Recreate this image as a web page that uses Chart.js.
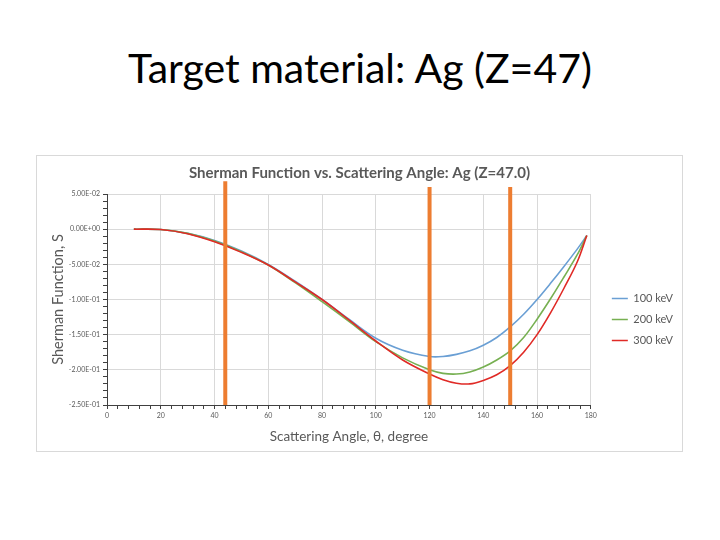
<!DOCTYPE html>
<html>
<head>
<meta charset="utf-8">
<script src="https://cdn.jsdelivr.net/npm/chart.js@4.4.1/dist/chart.umd.min.js"></script>
<style>
  body { margin: 0; width: 720px; height: 540px; background: #fff; position: relative; font-family: Lato, sans-serif; overflow: hidden; }
  #title { position: absolute; left: 0; top: 43px; width: 720px; text-align: center; font-size: 41px; color: #000; }
  #frame { position: absolute; left: 36px; top: 155px; width: 645px; height: 295px; border: 1px solid #d9d9d9; }
</style>
</head>
<body>
<div id="title">Target material: Ag (Z=47)</div>
<div id="frame"><canvas id="line-chart" width="645" height="295"></canvas></div>
<script>
// scattering angles (degree)
var angles = [10, 20, 30, 40, 50, 60, 70, 80, 90, 100, 110, 120, 125, 130, 135, 140, 145, 150, 155, 160, 165, 170, 175, 178.5];
// Sherman function S for each beam energy
var s100 = [0, -0.0005, -0.006, -0.016, -0.031, -0.050, -0.074, -0.100, -0.128, -0.155, -0.172, -0.181, -0.181, -0.178, -0.173, -0.165, -0.154, -0.139, -0.121, -0.100, -0.077, -0.053, -0.028, -0.009];
var s200 = [0, -0.0005, -0.006, -0.017, -0.032, -0.051, -0.076, -0.103, -0.131, -0.160, -0.183, -0.200, -0.205, -0.206, -0.203, -0.196, -0.186, -0.173, -0.154, -0.128, -0.099, -0.068, -0.036, -0.009];
var s300 = [0, -0.0005, -0.0065, -0.018, -0.033, -0.051, -0.075, -0.100, -0.129, -0.159, -0.186, -0.206, -0.214, -0.219, -0.220, -0.215, -0.207, -0.194, -0.175, -0.150, -0.119, -0.084, -0.046, -0.009];
var seriesNames = ["100 keV", "200 keV", "300 keV"];
// orange marker lines on the slide
var markerAngles = [44, 120, 150];
var markerTops = [0.068, 0.060, 0.060];
var markerBottom = -0.25;

function toPoints(xs, ys) {
  return xs.map(function (x, i) { return { x: x, y: ys[i] }; });
}

// 5.00E-02 style labels
function sci(v) {
  var parts = Number(v).toExponential(2).split('e');
  var exp = parseInt(parts[1]);
  var e = Math.abs(exp);
  return parts[0] + 'E' + (exp < 0 ? '-' : '+') + (e < 10 ? '0' + e : e);
}

var gray = '#595959';
var datasets = [
  { label: seriesNames[0], data: toPoints(angles, s100), borderColor: '#6a9fd4', order: 3 },
  { label: seriesNames[1], data: toPoints(angles, s200), borderColor: '#77b052', order: 2 },
  { label: seriesNames[2], data: toPoints(angles, s300), borderColor: '#e02a26', order: 1 }
];
datasets.forEach(function (d) {
  d.borderWidth = 1.6;
  d.pointRadius = 0;
  d.fill = false;
  d.tension = 0.35;
});
markerAngles.forEach(function (a, i) {
  datasets.push({
    label: 'marker' + i,
    data: [{ x: a, y: markerBottom }, { x: a, y: markerTops[i] }],
    borderColor: '#ed7d31',
    borderWidth: 4,
    pointRadius: 0,
    clip: false,
    order: 0
  });
});

// nudge the legend to where the original sits
var legendShift = {
  id: 'legendShift',
  afterLayout: function (chart) {
    var l = chart.legend;
    l.left += 11; l.right += 11;
    l.top += 18; l.bottom += 18;
  }
};

var ctx = document.getElementById('line-chart').getContext('2d');
var myChart = new Chart(ctx, {
  type: 'line',
  data: { datasets: datasets },
  plugins: [legendShift],
  options: {
    responsive: false,
    animation: false,
    layout: { padding: { left: 10, right: 10, top: 0, bottom: 4 } },
    plugins: {
      title: {
        display: true,
        text: 'Sherman Function vs. Scattering Angle: Ag (Z=47.0)',
        color: gray,
        font: { family: 'Lato', size: 15, weight: 'bold' },
        padding: { top: 8, bottom: 12 }
      },
      legend: {
        position: 'right',
        labels: {
          filter: function (item) { return item.datasetIndex < 3; },
          sort: function (a, b) { return a.datasetIndex - b.datasetIndex; },
          usePointStyle: true,
          pointStyle: 'line',
          pointStyleWidth: 16,
          boxHeight: 11,
          padding: 10,
          color: gray,
          font: { family: 'Lato', size: 11 }
        }
      },
      tooltip: { enabled: false }
    },
    scales: {
      x: {
        type: 'linear',
        min: 0,
        max: 180,
        afterFit: function (scale) { scale.height = 42; },
        ticks: {
          stepSize: 4,
          maxTicksLimit: 100,
          autoSkip: false,
          maxRotation: 0,
          padding: 3,
          color: gray,
          font: { family: 'Lato', size: 7 },
          callback: function (v) { return v % 20 === 0 ? v : ''; }
        },
        grid: {
          color: function (c) { return c.tick && c.tick.value % 20 === 0 ? '#d9d9d9' : 'rgba(0,0,0,0)'; },
          tickColor: '#404040',
          tickLength: 4
        },
        border: { color: '#404040' },
        title: {
          display: true,
          text: 'Scattering Angle, θ, degree',
          color: gray,
          font: { family: 'Lato', size: 13.5 },
          padding: { top: 2, bottom: 2 }
        }
      },
      y: {
        min: -0.25,
        max: 0.05,
        afterFit: function (scale) { scale.width = 60; },
        ticks: {
          stepSize: 0.01,
          maxTicksLimit: 100,
          autoSkip: false,
          padding: 3,
          color: gray,
          font: { family: 'Lato', size: 7 },
          callback: function (v) { return Math.round(v * 100) % 5 === 0 ? sci(v) : ''; }
        },
        grid: {
          color: function (c) { return c.tick && Math.round(c.tick.value * 100) % 5 === 0 ? '#d9d9d9' : 'rgba(0,0,0,0)'; },
          tickColor: '#404040',
          tickLength: 4
        },
        border: { color: '#404040' },
        title: {
          display: true,
          text: 'Sherman Function, S',
          color: gray,
          font: { family: 'Lato', size: 14.5 },
          padding: { top: 3, bottom: 4 }
        }
      }
    }
  }
});
</script>
</body>
</html>
